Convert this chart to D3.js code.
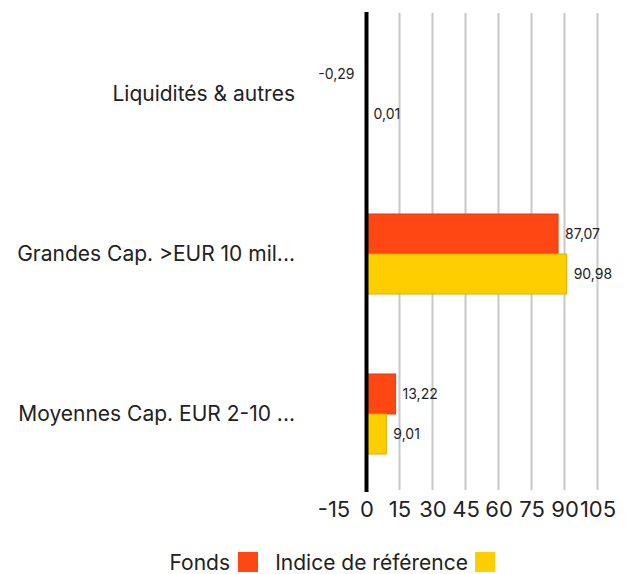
<!DOCTYPE html>
<html>
<head>
<meta charset="utf-8">
<script src="https://cdn.jsdelivr.net/npm/d3@7"></script>
<style>
  body { margin: 0; background: #fff; }
  text { font-family: Inter, "Open Sans", sans-serif; fill: #222; }
</style>
</head>
<body>
<div id="chart"></div>
<script>
// chart data
var categories = ["Liquidités & autres", "Grandes Cap. >EUR 10 mil...", "Moyennes Cap. EUR 2-10 ..."];
var seriesNames = ["Fonds", "Indice de référence"];
var fondsValues = [-0.29, 87.07, 13.22];
var indiceValues = [0.01, 90.98, 9.01];
var tickValues = [-15, 0, 15, 30, 45, 60, 75, 90, 105];
var colors = ["#ff4713", "#ffce00"];
var strokes = ["#d9400f", "#dcae00"];

var svgWidth = 627;
var svgHeight = 574;

var svg = d3.select("#chart")
  .append("svg")
  .attr("width", svgWidth)
  .attr("height", svgHeight);

// scales
var x = d3.scaleLinear()
  .domain([-15, 105])
  .range([333.5, 597.5]);

var y = d3.scaleBand()
  .domain(categories)
  .range([14, 494]);

var ySub = d3.scaleBand()
  .domain(seriesNames)
  .range([0, y.bandwidth()])
  .paddingInner(0)
  .paddingOuter(1);

// gridlines (no line at -15)
svg.append("g")
  .selectAll("line")
  .data(tickValues.filter(d => d > 0))
  .enter()
  .append("line")
  .attr("x1", d => x(d))
  .attr("x2", d => x(d))
  .attr("y1", 13)
  .attr("y2", 490)
  .attr("stroke", "#c8c8c8")
  .attr("stroke-width", 2);

// tick labels
var xAxis = svg.append("g")
  .attr("transform", "translate(0, 494)")
  .call(d3.axisBottom(x).tickValues(tickValues).tickSize(0)
    .tickFormat(d => String(d)));
xAxis.select(".domain").remove();
xAxis.selectAll("text")
  .attr("y", 23)
  .attr("dy", 0)
  .style("font-size", "22px")
  .attr("fill", "#222");

// rows of data
var rows = categories.map((c, i) => ({
  category: c,
  values: [
    { name: seriesNames[0], value: fondsValues[i], idx: 0 },
    { name: seriesNames[1], value: indiceValues[i], idx: 1 }
  ]
}));

var groups = svg.append("g")
  .selectAll("g")
  .data(rows)
  .enter()
  .append("g")
  .attr("transform", d => `translate(0, ${y(d.category)})`);

groups.selectAll("rect")
  .data(d => d.values)
  .enter()
  .append("rect")
  .attr("x", d => x(Math.min(0, d.value)))
  .attr("y", d => ySub(d.name))
  .attr("width", d => Math.abs(x(d.value) - x(0)))
  .attr("height", ySub.bandwidth())
  .attr("fill", d => colors[d.idx])
  .attr("stroke", d => strokes[d.idx])
  .attr("stroke-width", 1);

groups.selectAll("text.val")
  .data(d => d.values)
  .enter()
  .append("text")
  .attr("class", "val")
  .attr("x", d => d.value < 0 ? x(0) - 12 : x(d.value) + 7)
  .attr("y", d => ySub(d.name) + ySub.bandwidth() / 2)
  .attr("dy", "0.35em")
  .attr("text-anchor", d => d.value < 0 ? "end" : "start")
  .style("font-size", "14px")
  .text(d => d.value.toFixed(2).replace(".", ","));

// zero line
svg.append("line")
  .attr("x1", x(0))
  .attr("x2", x(0))
  .attr("y1", 12)
  .attr("y2", 492)
  .attr("stroke", "#000")
  .attr("stroke-width", 4);

// category labels
svg.append("g")
  .selectAll("text")
  .data(categories)
  .enter()
  .append("text")
  .attr("x", 295)
  .attr("y", d => y(d) + y.bandwidth() / 2)
  .attr("dy", "0.35em")
  .attr("text-anchor", "end")
  .style("font-size", "21px")
  .text(d => d);

// legend
var legend = svg.append("g");
legend.append("text")
  .attr("x", 230)
  .attr("y", 570)
  .attr("text-anchor", "end")
  .style("font-size", "21px")
  .text(seriesNames[0]);
legend.append("rect")
  .attr("x", 238).attr("y", 552).attr("width", 20).attr("height", 20)
  .attr("fill", colors[0]);
legend.append("text")
  .attr("x", 468)
  .attr("y", 570)
  .attr("text-anchor", "end")
  .style("font-size", "21px")
  .text(seriesNames[1]);
legend.append("rect")
  .attr("x", 475).attr("y", 552).attr("width", 20).attr("height", 20)
  .attr("fill", colors[1]);
</script>
</body>
</html>
